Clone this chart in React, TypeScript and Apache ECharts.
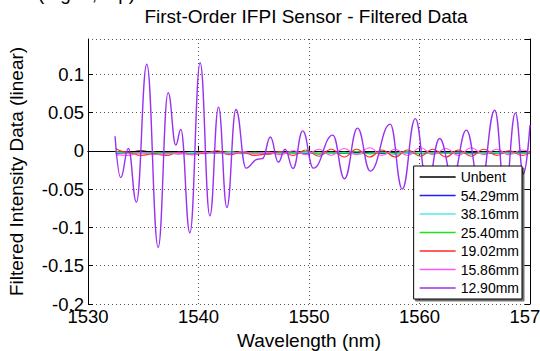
import React, { useEffect, useRef } from 'react';
import * as echarts from 'echarts';

const FONT = '"Liberation Sans", Arial, Helvetica, sans-serif';

const titleText = 'First-Order IFPI Sensor - Filtered Data';
const xAxisName = 'Wavelength (nm)';
const yAxisName = 'Filtered Intensity Data (linear)';
const captionText = '(Fig. 3, top)';

const seriesNames = ['Unbent', '54.29mm', '38.16mm', '25.40mm', '19.02mm', '15.86mm', '12.90mm'];
const seriesColors = ['#000000', '#2020ff', '#55e8e8', '#22e022', '#ff2a2a', '#ff55ff', '#9a30f0'];

// wavelengths (nm) at which the small-amplitude traces were read
const smallX = [1532.5, 1533.6, 1534.8, 1535.9, 1537.1, 1538.2, 1539.4, 1540.5, 1541.7, 1542.8,
  1544.0, 1545.1, 1546.3, 1547.4, 1548.6, 1549.7, 1550.9, 1552.0, 1553.2, 1554.3,
  1555.5, 1556.6, 1557.8, 1558.9, 1560.1, 1561.2, 1562.4, 1563.5, 1564.7, 1565.8,
  1567.0, 1568.1, 1569.3, 1570.0];

const unbentY = [-0.001, -0.002, 0.000, -0.002, -0.003, -0.002, -0.002, -0.003, -0.002, -0.001,
  -0.002, -0.003, -0.002, -0.002, -0.003, -0.002, -0.001, -0.002, -0.003, -0.002,
  -0.002, -0.003, -0.002, -0.001, -0.002, -0.003, -0.002, -0.002, -0.003, -0.002,
  -0.002, -0.003, -0.002, -0.002];
const mm5429Y = [-0.003, -0.003, -0.002, -0.003, -0.003, -0.004, -0.003, -0.003, -0.003, -0.004,
  -0.003, -0.003, -0.004, -0.003, -0.003, -0.003, -0.004, -0.003, -0.003, -0.004,
  -0.003, -0.003, -0.004, -0.003, -0.003, -0.002, -0.003, -0.003, -0.002, -0.003,
  -0.003, -0.002, -0.003, -0.003];
const mm3816Y = [-0.002, -0.003, -0.003, -0.002, -0.004, -0.003, -0.002, -0.004, -0.003, -0.002,
  -0.004, -0.003, -0.002, -0.004, -0.003, -0.002, -0.004, -0.003, -0.002, -0.004,
  -0.003, -0.002, -0.004, -0.003, -0.002, -0.004, -0.003, -0.002, -0.004, -0.003,
  -0.002, -0.004, -0.003, -0.003];
const mm2540Y = [-0.001, -0.002, -0.003, -0.002, -0.003, -0.002, -0.004, -0.002, -0.003, -0.001,
  -0.003, -0.002, -0.004, -0.002, -0.003, -0.001, -0.004, -0.002, -0.003, -0.001,
  -0.004, -0.002, -0.003, -0.001, -0.004, -0.002, -0.003, -0.002, -0.004, -0.002,
  -0.003, -0.002, -0.003, -0.002];
const mm1902Y = [0.003, -0.002, -0.006, -0.004, -0.006, -0.002, -0.005, -0.003, 0.000, -0.005,
  -0.002, -0.006, -0.004, -0.001, -0.006, 0.001, -0.007, 0.002, -0.008, 0.002,
  -0.008, 0.001, -0.008, 0.001, -0.007, 0.002, -0.008, 0.001, -0.007, 0.002,
  -0.006, 0.000, -0.006, -0.003];
const mm1586Y = [-0.005, -0.006, -0.002, -0.005, -0.004, -0.003, -0.005, -0.002, -0.003, -0.004,
  -0.001, -0.004, -0.002, -0.005, 0.000, -0.005, 0.002, -0.006, 0.003, -0.005,
  0.004, -0.006, 0.002, -0.006, 0.004, -0.005, 0.003, -0.006, 0.004, -0.005,
  0.002, -0.005, 0.001, -0.002];

// 12.90 mm trace: wavelengths of its turning points and their values
const mm1290X = [1532.45, 1532.96, 1533.65, 1534.38, 1535.32, 1536.35, 1537.25, 1537.95, 1538.40, 1539.22,
  1540.15, 1541.03, 1541.81, 1542.57, 1543.39, 1544.30, 1545.35, 1545.80, 1546.50, 1547.23,
  1547.83, 1548.56, 1549.43, 1550.40, 1552.15, 1553.21, 1554.39, 1555.54, 1557.35, 1558.44,
  1559.62, 1560.70, 1561.82, 1563.00, 1564.24, 1565.50, 1566.81, 1567.75, 1568.68, 1569.40, 1570.00];
const mm1290Y = [0.019, -0.035, 0.003, -0.067, 0.113, -0.126, 0.076, 0.0075, 0.028, -0.107,
  0.115, -0.085, 0.057, -0.074, 0.054, -0.0226, -0.011, -0.010, 0.018, -0.015,
  0.002, -0.023, 0.026, -0.0226, 0.0205, -0.0365, 0.0296, -0.0265, 0.0349, -0.050,
  0.042, -0.045, 0.016, -0.035, 0.027, -0.050, 0.053, -0.055, 0.0496, -0.030, 0.0335];

const xMin = 1530;
const xMax = 1570;
const xStep = 10;
const yMin = -0.2;
const yMax = 0.146;
const yStep = 0.05;

const zip = (xs: number[], ys: number[]) => xs.map((x, i) => [x, ys[i]]);

export default function App() {
  const ref = useRef<HTMLDivElement>(null);
  useEffect(() => {
    if (!ref.current) return;
    const chart = echarts.init(ref.current, undefined, { renderer: 'svg' });
    const smallSets = [unbentY, mm5429Y, mm3816Y, mm2540Y, mm1902Y, mm1586Y];
    const series: any[] = smallSets.map((ys, i) => ({
      name: seriesNames[i],
      type: 'line',
      data: zip(smallX, ys),
      symbol: 'none',
      smooth: 0.45,
      smoothMonotone: 'x',
      lineStyle: { color: seriesColors[i], width: 1.1 },
      itemStyle: { color: seriesColors[i] },
      xAxisIndex: 0,
      yAxisIndex: 0,
    }));
    series.push({
      name: seriesNames[6],
      type: 'line',
      data: zip(mm1290X, mm1290Y),
      symbol: 'none',
      smooth: 0.45,
      smoothMonotone: 'x',
      lineStyle: { color: seriesColors[6], width: 1.4 },
      itemStyle: { color: seriesColors[6] },
      xAxisIndex: 0,
      yAxisIndex: 0,
    });

    const grid = { left: 88, right: 10, top: 39, bottom: 47, containLabel: false, outerBoundsMode: 'none' };
    const gridLine = { show: true, lineStyle: { color: '#555', type: [1, 3] as any, width: 1 } };
    const edge = { show: true, lineStyle: { color: '#000', width: 1 } };
    const tick = { show: true, inside: true, length: 5, lineStyle: { color: '#000' } };

    chart.setOption({
      animation: false,
      backgroundColor: '#fff',
      textStyle: { fontFamily: FONT },
      title: {
        text: titleText,
        left: 301,
        top: 2,
        textAlign: 'center',
        textStyle: { fontSize: 19, fontWeight: 'normal', color: '#000', fontFamily: FONT },
      },
      graphic: [
        {
          type: 'text',
          left: 38,
          top: -16,
          style: { text: captionText, fill: '#000', font: `19px ${FONT}` },
        },
      ],
      grid,
      legend: {
        orient: 'vertical',
        right: 18,
        bottom: 52,
        icon: 'rect',
        itemWidth: 36,
        itemHeight: 1.5,
        itemGap: 4.5,
        padding: [4, 3, 4, 6],
        backgroundColor: '#fff',
        borderColor: '#000',
        borderWidth: 1,
        shadowColor: 'rgba(0,0,0,0.55)',
        shadowOffsetX: 2,
        shadowOffsetY: 2,
        shadowBlur: 1,
        textStyle: { fontSize: 14, color: '#000', fontFamily: FONT },
        data: seriesNames,
      },
      xAxis: [
        {
          type: 'value',
          min: xMin,
          max: xMax,
          interval: xStep,
          position: 'bottom',
          name: xAxisName,
          nameLocation: 'middle',
          nameGap: 26,
          nameTextStyle: { fontSize: 19, color: '#000', fontFamily: FONT },
          axisLine: edge,
          axisTick: tick,
          axisLabel: {
            fontSize: 18.5,
            color: '#000',
            margin: 3,
            fontFamily: FONT,
            formatter: (v: number) => String(v),
          },
          splitLine: gridLine,
        },
        {
          type: 'value',
          min: xMin,
          max: xMax,
          interval: xStep,
          position: 'top',
          axisLine: edge,
          axisTick: tick,
          axisLabel: { show: false },
          splitLine: { show: false },
        },
      ],
      yAxis: [
        {
          type: 'value',
          min: yMin,
          max: yMax,
          interval: yStep,
          position: 'left',
          name: yAxisName,
          nameLocation: 'middle',
          nameGap: 62,
          nameTextStyle: { fontSize: 19, color: '#000', fontFamily: FONT },
          axisLine: edge,
          axisTick: tick,
          axisLabel: {
            fontSize: 18.5,
            color: '#000',
            margin: 4,
            fontFamily: FONT,
            showMaxLabel: false,
            formatter: (v: number) => {
              const r = Math.round(v * 100) / 100;
              return Math.abs(Math.round(r / yStep) * yStep - v) < 1e-6 ? String(r) : '';
            },
          },
          splitLine: gridLine,
        },
        {
          type: 'value',
          min: yMin,
          max: yMax,
          interval: yStep,
          position: 'right',
          axisLine: edge,
          axisTick: tick,
          axisLabel: { show: false },
          splitLine: { show: false },
        },
      ],
      series,
    });
    return () => chart.dispose();
  }, []);
  return <div ref={ref} style={{ position: 'fixed', left: 0, top: 0, width: 540, height: 351 }} />;
}
